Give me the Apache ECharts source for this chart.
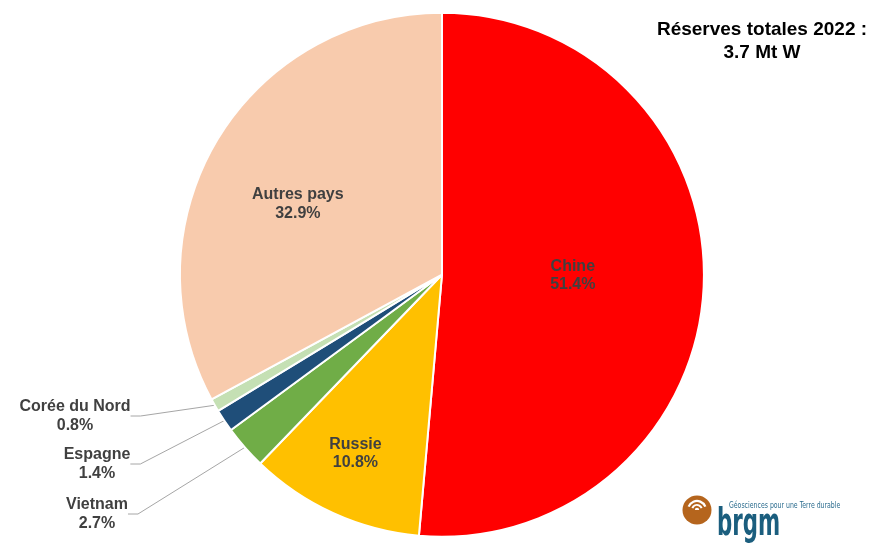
<!DOCTYPE html>
<html>
<head>
<meta charset="utf-8">
<script src="https://cdn.jsdelivr.net/npm/echarts@6/dist/echarts.min.js"></script>
<style>
html,body{margin:0;padding:0;background:#fff;}
#chart{width:876px;height:544px;}
</style>
</head>
<body>
<div id="chart"></div>
<script>
const categories = ['Chine', 'Russie', 'Vietnam', 'Espagne', 'Corée du Nord', 'Autres pays'];
const shares = [51.4, 10.8, 2.7, 1.4, 0.8, 32.9];
const sliceColors = ['#FF0000', '#FFC000', '#70AD47', '#1F4E79', '#C5E0B4', '#F8CBAD'];
const titleLines = ['Réserves totales 2022 :', '3.7 Mt W'];

const FONT = '"Liberation Sans", Arial, sans-serif';
const LABEL_COLOR = '#404040';
const CENTER = ['50.45%', '50.5%'];
const R = 262;

const insideNames = ['Chine', 'Russie', 'Autres pays'];
// fine shifts of the inside labels (relative to the default mid-radius position)
const insideShift = { 'Chine': [-3, -5], 'Russie': [-31, 57], 'Autres pays': [-29, -2] };
// outside labels placement (label centre)
const outsidePos = { 'Corée du Nord': [75, 416], 'Espagne': [97, 464], 'Vietnam': [97, 514] };

const mainData = categories.map((name, i) => ({
  name, value: shares[i],
  itemStyle: { color: sliceColors[i] },
  label: { show: true, position: insideNames.includes(name) ? 'inside' : 'outside' },
  labelLine: { show: !insideNames.includes(name) }
}));

const option = {
  backgroundColor: '#ffffff',
  animation: false,
  series: [
    {
      type: 'pie', center: CENTER, radius: [0, R], startAngle: 90, clockwise: true,
      animation: false,
      itemStyle: { borderColor: '#ffffff', borderWidth: 2 },
      label: {
        show: true, color: LABEL_COLOR, fontFamily: FONT, fontWeight: 'bold', fontSize: 16, lineHeight: 18.5,
        formatter: p => p.name + '\n' + p.value.toFixed(1) + '%'
      },
      labelLine: { show: true, length: 10, length2: 10, lineStyle: { color: '#A6A6A6', width: 1 } },
      labelLayout: function (params) {
        const name = categories[params.dataIndex];
        const p = outsidePos[name];
        if (p) return { x: p[0], y: p[1], align: 'center', verticalAlign: 'middle' };
        const s = insideShift[name];
        if (s) return { dx: s[0], dy: s[1] };
      },
      data: mainData
    }
  ],
  graphic: [
    {
      type: 'text', x: 762, y: 18,
      style: {
        text: titleLines.join('\n'), textAlign: 'center', textVerticalAlign: 'top',
        font: 'bold 19px "Liberation Sans", Arial, sans-serif', lineHeight: 23, fill: '#000000'
      }
    },
    { type: 'circle', shape: { cx: 697, cy: 510, r: 14.5 }, style: { fill: '#B5651D' } },
    { type: 'arc', shape: { cx: 697, cy: 510, r: 9, startAngle: -Math.PI * 0.88, endAngle: -Math.PI * 0.12 }, style: { stroke: '#ffffff', lineWidth: 2.2, fill: null } },
    { type: 'arc', shape: { cx: 697, cy: 510, r: 5, startAngle: -Math.PI * 0.88, endAngle: -Math.PI * 0.12 }, style: { stroke: '#ffffff', lineWidth: 2, fill: null } },
    { type: 'sector', shape: { cx: 697, cy: 510, r0: 0, r: 2.2, startAngle: Math.PI, endAngle: Math.PI * 2 }, style: { fill: '#ffffff' } },
    {
      type: 'text', x: 729, y: 502, scaleX: 0.86, originX: 0,
      style: { text: 'Géosciences pour une Terre durable', font: '8px "DejaVu Sans Condensed", "Liberation Sans Narrow", sans-serif', fill: '#2B6C8E', textVerticalAlign: 'top' }
    },
    {
      type: 'text', x: 717, y: 507, scaleX: 0.64, originX: 0,
      style: { text: 'brgm', font: 'bold 37px "DejaVu Sans Condensed", "Liberation Sans Narrow", sans-serif', fill: '#1B5E7E', textVerticalAlign: 'top' }
    }
  ]
};

const chart = echarts.init(document.getElementById('chart'), null, { renderer: 'canvas' });
chart.setOption(option);
</script>
</body>
</html>
